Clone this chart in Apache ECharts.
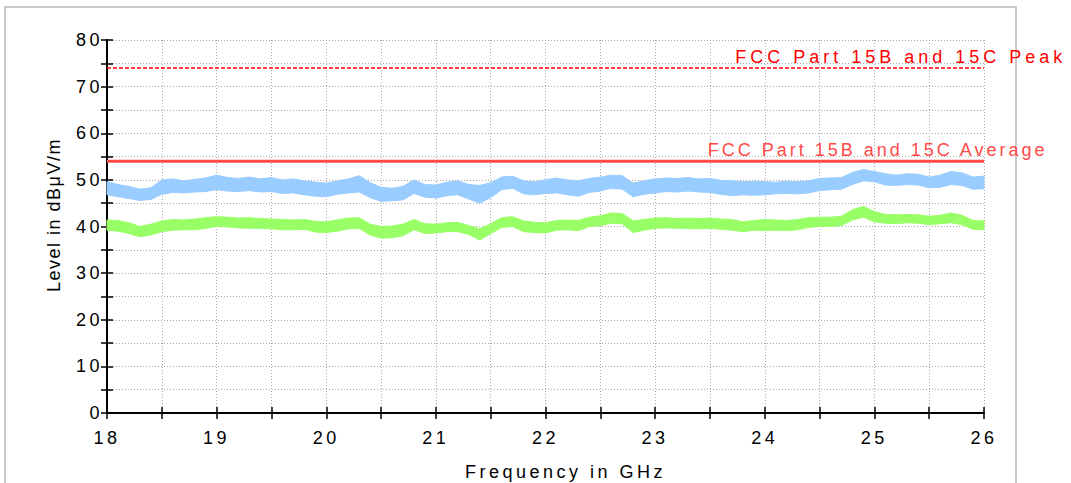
<!DOCTYPE html>
<html>
<head>
<meta charset="utf-8">
<script src="https://cdn.jsdelivr.net/npm/echarts@6/dist/echarts.min.js"></script>
<style>
  html, body { margin: 0; padding: 0; background: #fff; }
  #chart { width: 1071px; height: 483px; }
  #chart text { letter-spacing: 3.5px; }
</style>
</head>
<body>
<div id="chart"></div>
<script>
// ---------------- data ----------------
const freqs = [18.0,18.1,18.2,18.3,18.4,18.5,18.6,18.7,18.8,18.9,
               19.0,19.1,19.2,19.3,19.4,19.5,19.6,19.7,19.8,19.9,
               20.0,20.1,20.2,20.3,20.4,20.5,20.6,20.7,20.8,20.9,
               21.0,21.1,21.2,21.3,21.4,21.5,21.6,21.7,21.8,21.9,
               22.0,22.1,22.2,22.3,22.4,22.5,22.6,22.7,22.8,22.9,
               23.0,23.1,23.2,23.3,23.4,23.5,23.6,23.7,23.8,23.9,
               24.0,24.1,24.2,24.3,24.4,24.5,24.6,24.7,24.8,24.9,
               25.0,25.1,25.2,25.3,25.4,25.5,25.6,25.7,25.8,25.9,26.0];

// peak trace (blue) envelope
const blueUpper = [49.6,49.0,48.6,48.0,48.3,50.0,50.2,49.8,50.1,50.4,
                   51.0,50.5,50.3,50.6,50.2,50.5,50.0,50.2,49.8,49.5,
                   49.3,49.8,50.2,50.9,49.4,48.4,48.2,48.6,50.0,49.0,
                   48.9,49.5,49.8,49.0,48.8,49.4,50.6,50.8,49.8,49.6,
                   50.0,50.4,50.0,49.8,50.3,50.6,51.0,50.9,49.3,49.8,
                   50.2,50.4,50.3,50.5,50.2,50.3,49.9,49.8,49.6,49.7,
                   49.6,49.5,49.7,49.6,49.8,50.3,50.4,50.5,51.6,52.2,
                   51.8,51.3,51.0,51.3,51.2,50.6,51.0,51.8,51.5,50.6,50.8];
const blueLower = [46.8,46.4,46.0,45.6,45.8,46.9,47.3,47.2,47.4,47.5,
                   47.9,47.6,47.5,47.7,47.4,47.5,47.1,47.2,46.8,46.5,
                   46.4,46.9,47.2,47.4,46.2,45.4,45.5,45.7,47.1,46.3,
                   46.1,46.6,46.8,45.9,45.0,46.2,47.9,48.2,47.0,46.8,
                   47.1,47.2,46.8,46.5,47.3,47.6,48.2,48.0,46.4,46.9,
                   47.2,47.5,47.4,47.6,47.4,47.3,46.9,46.6,46.8,46.7,
                   46.8,47.0,47.1,47.0,47.2,47.7,47.9,48.0,49.0,49.8,
                   49.6,48.9,48.8,49.0,48.9,48.3,48.4,49.0,48.8,48.0,48.1];

// average trace (green) envelope
const greenUpper = [41.4,41.3,40.8,40.0,40.5,41.2,41.5,41.4,41.6,41.9,
                    42.1,42.0,41.8,41.9,41.7,41.6,41.5,41.4,41.5,41.1,
                    41.0,41.4,41.8,41.9,40.5,40.0,40.1,40.5,41.5,40.6,
                    40.5,40.8,40.9,40.2,39.5,40.6,41.9,42.1,41.2,40.9,
                    40.8,41.3,41.4,41.3,42.0,42.3,42.9,42.8,41.2,41.5,
                    41.8,41.9,41.7,41.8,41.7,41.8,41.6,41.5,41.0,41.3,
                    41.5,41.4,41.3,41.5,41.9,42.0,42.0,42.2,43.6,44.3,
                    43.2,42.6,42.5,42.6,42.5,42.2,42.4,42.9,42.4,41.3,41.2];
const greenLower = [39.2,39.0,38.5,37.8,38.2,38.9,39.2,39.3,39.3,39.6,
                    40.0,39.9,39.7,39.6,39.6,39.5,39.3,39.3,39.4,38.8,
                    38.7,39.0,39.5,39.6,38.2,37.5,37.6,38.0,39.3,38.5,
                    38.6,38.9,38.9,38.3,37.1,38.5,39.8,40.0,38.9,38.7,
                    38.6,39.2,39.3,39.1,40.0,40.2,40.7,40.6,38.7,39.2,
                    39.6,39.7,39.6,39.6,39.5,39.6,39.4,39.2,38.9,39.2,
                    39.1,39.2,39.1,39.3,39.8,40.0,40.0,40.2,41.4,42.0,
                    41.0,40.7,40.6,40.8,40.7,40.4,40.6,40.8,40.4,39.4,39.3];

// limit lines
const limitFreqs = [18, 26];
const peakLimit = 74;
const avgLimit = 54;
const peakLabel = 'FCC Part 15B and 15C Peak';
const avgLabel = 'FCC Part 15B and 15C Average';

// tick labels
const xTickLabels = [18, 19, 20, 21, 22, 23, 24, 25, 26];
const yTickLabels = [0, 10, 20, 30, 40, 50, 60, 70, 80];
const xTitle = 'Frequency in GHz';
const yTitle = 'Level in dBμV/m';

// ---------------- chart ----------------
const FONT = '"Liberation Sans", Arial, sans-serif';
const BLUE = '#99ccff';
const GREEN = '#99ff66';

const chart = echarts.init(document.getElementById('chart'), null, { renderer: 'svg' });

// filled band between lower and upper envelopes, drawn through the axis scales
function band(upper, lower, color) {
  const rows = freqs.map((f, i) => [f, lower[i], upper[i]]);
  return {
    type: 'custom', silent: true, animation: false,
    data: rows,
    encode: { x: 0, y: [1, 2] },
    renderItem: function (params, api) {
      if (params.dataIndex !== 0) return null;
      const top = rows.map(r => api.coord([r[0], r[2]]));
      const bot = rows.map(r => api.coord([r[0], r[1]])).reverse();
      return {
        type: 'polygon',
        shape: { points: top.concat(bot) },
        style: { fill: color, stroke: color, lineWidth: 1 }
      };
    }
  };
}

const axisCommon = {
  type: 'value',
  axisLine: { show: false },
  axisLabel: { show: false },
  splitLine: { show: false },
  axisTick: { show: true, inside: true, length: 6, lineStyle: { color: '#000', width: 1.5 } }
};

const option = {
  animation: false,
  backgroundColor: '#fff',
  grid: { left: 107, right: 87, top: 40, bottom: 70, containLabel: false },
  xAxis: [
    {
      type: 'value', min: 18, max: 26, interval: 0.5,
      axisLine: { show: true, onZero: false, lineStyle: { color: '#000', width: 2 } },
      axisTick: { show: true, length: 6, lineStyle: { color: '#000', width: 1.5 } },
      axisLabel: {
        margin: 16, color: '#000', fontSize: 18, fontFamily: FONT,
        formatter: v => (xTickLabels.indexOf(v) >= 0 ? String(v) : '')
      },
      splitLine: { show: true, lineStyle: { color: '#a8a8a8', width: 1, type: [1, 2] } }
    },
    Object.assign({}, axisCommon, { min: 18, max: 26, interval: 0.5, position: 'bottom' })
  ],
  yAxis: [
    {
      type: 'value', min: 0, max: 80, interval: 5,
      axisLine: { show: true, onZero: false, lineStyle: { color: '#000', width: 2 } },
      axisTick: { show: true, length: 6, lineStyle: { color: '#000', width: 1.5 } },
      axisLabel: {
        margin: 4, color: '#000', fontSize: 18, fontFamily: FONT,
        formatter: v => (yTickLabels.indexOf(v) >= 0 ? String(v) : '')
      },
      splitLine: { show: true, lineStyle: { color: '#a8a8a8', width: 1, type: [1, 2] } }
    },
    Object.assign({}, axisCommon, { min: 0, max: 80, interval: 5, position: 'left' })
  ],
  series: [
    band(greenUpper, greenLower, GREEN),
    band(blueUpper, blueLower, BLUE),
    {
      type: 'line', symbol: 'none', silent: true,
      data: limitFreqs.map(f => [f, avgLimit]),
      lineStyle: { width: 3, color: '#ff4a4a' }
    },
    {
      type: 'line', symbol: 'none', silent: true,
      data: limitFreqs.map(f => [f, peakLimit]),
      lineStyle: { width: 1.3, color: '#ff0000', type: [4, 2] }
    }
  ]
};

chart.setOption(option);

// labels placed through the chart's own scales
const pPeak = chart.convertToPixel({ gridIndex: 0 }, [23.73, peakLimit]);
const pAvg = chart.convertToPixel({ gridIndex: 0 }, [23.48, avgLimit]);
const gridMidX = chart.convertToPixel({ gridIndex: 0 }, [22, 0]);

chart.setOption({
  graphic: [
    {
      type: 'rect', z: -10, silent: true,
      shape: { x: 5, y: 7, width: 1011, height: 600 },
      style: { fill: 'none', stroke: '#c8c8c8', lineWidth: 2 }
    },
    {
      type: 'text', silent: true, x: pPeak[0], y: pPeak[1] - 11,
      style: { text: peakLabel, fill: '#ff0000', fontSize: 18, fontFamily: FONT, align: 'left', verticalAlign: 'middle' }
    },
    {
      type: 'text', silent: true, x: pAvg[0], y: pAvg[1] - 11,
      style: { text: avgLabel, fill: '#ff4a4a', fontSize: 18, fontFamily: FONT, align: 'left', verticalAlign: 'middle' }
    },
    {
      type: 'text', silent: true, x: gridMidX[0] + 20, y: 472,
      style: { text: xTitle, fill: '#000', fontSize: 18, fontFamily: FONT, align: 'center', verticalAlign: 'middle' }
    },
    {
      type: 'text', silent: true, x: 54, y: 215, rotation: Math.PI / 2,
      style: { text: yTitle, fill: '#000', fontSize: 18, fontFamily: FONT, align: 'center', verticalAlign: 'middle' }
    }
  ]
});

function tweakSpacing() {
  document.querySelectorAll('#chart text').forEach(t => {
    const s = t.textContent || '';
    if (s.indexOf('FCC Part 15B and 15C Peak') === 0) t.style.letterSpacing = '4px';
    else if (s.indexOf('FCC') === 0) t.style.letterSpacing = '3px';
    else if (s.indexOf('Level') === 0) t.style.letterSpacing = '1.5px';
  });
}
chart.on('finished', tweakSpacing);
setTimeout(tweakSpacing, 50);
</script>
</body>
</html>
